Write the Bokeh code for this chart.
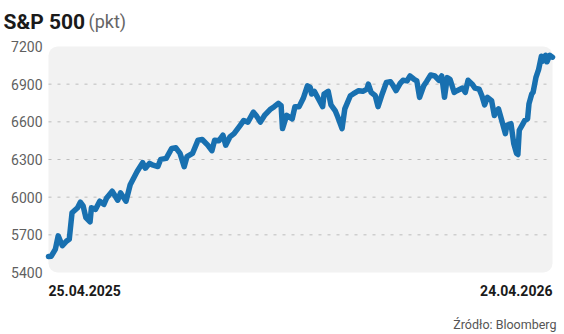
import pandas as pd
from bokeh.plotting import figure
from bokeh.models import BoxAnnotation, Label, Range1d
from bokeh.embed import file_html
from bokeh.resources import INLINE
from bokeh.core.properties import value

start_date = "2025-04-25"
end_date = "2026-04-24"

day_offsets = [0, 2, 5, 7, 10, 13, 15, 17, 21, 23, 25, 27, 30, 31, 34, 37, 40, 42, 46, 50,
               52, 56, 59, 64, 68, 70, 73, 75, 79, 81, 85, 89, 92, 95, 98, 100, 104, 108, 111, 115,
               118, 120, 123, 126, 128, 131, 134, 139, 141, 144, 148, 150, 153, 156, 160, 163, 166, 168, 169, 172,
               176, 178, 181, 184, 187, 189, 190, 192, 195, 198, 199, 202, 204, 207, 209, 212, 214, 218, 220, 224,
               227, 230, 231, 233, 236, 238, 241, 244, 247, 249, 251, 254, 256, 259, 261, 264, 266, 268, 271, 273,
               276, 279, 282, 284, 286, 288, 290, 293, 295, 299, 301, 303, 306, 308, 311, 313, 315, 317, 320, 322,
               323, 325, 327, 330, 331, 334, 336, 338, 339, 340, 342, 344, 346, 347, 349, 350, 352, 354, 356, 357,
               359, 360, 362, 364]
sp500 = [5527, 5530, 5587, 5692, 5613, 5650, 5665, 5876, 5916, 5960, 5930, 5837, 5803, 5916, 5903, 5968, 5942, 5994, 6047, 5976,
         6034, 5968, 6099, 6204, 6275, 6231, 6270, 6257, 6244, 6301, 6309, 6388, 6393, 6349, 6243, 6322, 6348, 6454, 6459, 6414,
         6370, 6454, 6449, 6493, 6414, 6480, 6506, 6580, 6611, 6598, 6677, 6651, 6598, 6651, 6698, 6721, 6747, 6729, 6546, 6651,
         6624, 6721, 6721, 6787, 6887, 6874, 6822, 6843, 6782, 6721, 6822, 6843, 6735, 6690, 6637, 6546, 6703, 6808, 6822, 6848,
         6843, 6861, 6900, 6835, 6808, 6721, 6822, 6913, 6920, 6887, 6848, 6907, 6931, 6926, 6965, 6939, 6926, 6795, 6887, 6920,
         6973, 6965, 6931, 6965, 6795, 6952, 6939, 6835, 6848, 6869, 6835, 6931, 6900, 6869, 6861, 6808, 6735, 6795, 6769, 6651,
         6680, 6703, 6624, 6506, 6572, 6585, 6428, 6349, 6340, 6533, 6572, 6611, 6624, 6743, 6822, 6835, 6952, 7018, 7123, 7084,
         7130, 7078, 7130, 7115]

y_ticks = [5400, 5700, 6000, 6300, 6600, 6900, 7200]
grid_ticks = [5700, 6000, 6300, 6600, 6900]
title_text = "S&P 500"
unit_text = "(pkt)"
start_label = "25.04.2025"
end_label = "24.04.2026"
source_text = "Źródło: Bloomberg"

W, H = 564, 334
L, R, T, B = 48, 552, 46, 272  # plot-area pixel box

t0 = pd.Timestamp(start_date)
t1 = pd.Timestamp(end_date)
dates = [t0 + pd.Timedelta(days=d) for d in day_offsets]

span = (t1 - t0)
px_t = span / (R - L)
ymin, ymax = y_ticks[0], y_ticks[-1]
px_y = (ymax - ymin) / (B - T)

p = figure(width=W, height=H, output_backend="svg", toolbar_location=None,
           x_axis_type="datetime", x_axis_location=None, y_axis_location=None,
           x_range=Range1d(t0 - px_t * L, t1 + px_t * (W - R)),
           y_range=Range1d(ymin - px_y * (H - B), ymax + px_y * T),
           min_border=0)
p.outline_line_color = None
p.background_fill_color = "white"
p.border_fill_color = "white"
p.grid.visible = False

p.add_layout(BoxAnnotation(left=t0, right=t1, bottom=ymin, top=ymax,
                           fill_color="#f2f2f2", fill_alpha=1.0, line_color=None,
                           border_radius=9, level="underlay"))

p.segment(x0=[t0] * len(grid_ticks), x1=[t1] * len(grid_ticks), y0=grid_ticks, y1=grid_ticks,
          line_color="#bdbdbd", line_dash="3 6", line_width=1)

p.text(x=[t0] * len(y_ticks), y=y_ticks, text=[str(v) for v in y_ticks],
       x_offset=-6, text_align="right", text_baseline="middle",
       text_font=value("Roboto"), text_font_size="14px", text_color="#5f5f5f")

p.line(dates, sp500, line_color="#1870b0", line_width=5.5, line_join="round", line_cap="round")

p.text(x=[t0], y=[ymin], text=[start_label], y_offset=18, text_align="left",
       text_baseline="alphabetic", text_font=value("Roboto"), text_font_style="bold",
       text_font_size="14px", text_color="#1a1a1a")
p.text(x=[t1], y=[ymin], text=[end_label], y_offset=18, text_align="right",
       text_baseline="alphabetic", text_font=value("Roboto"), text_font_style="bold",
       text_font_size="14px", text_color="#1a1a1a")

p.add_layout(Label(x=3, y=H - 21, x_units="screen", y_units="screen", text=title_text,
                   text_font="Roboto", text_font_style="bold", text_font_size="21px",
                   text_color="#1a1a1a", text_baseline="alphabetic"))
p.add_layout(Label(x=88, y=H - 21, x_units="screen", y_units="screen", text=unit_text,
                   text_font="Roboto", text_font_size="18px",
                   text_color="#666666", text_baseline="alphabetic"))
p.add_layout(Label(x=556, y=H - 324, x_units="screen", y_units="screen", text=source_text,
                   text_font="Roboto", text_font_size="12.5px",
                   text_color="#555555", text_baseline="alphabetic", text_align="right"))

open("out.html", "w").write(file_html(p, INLINE))
